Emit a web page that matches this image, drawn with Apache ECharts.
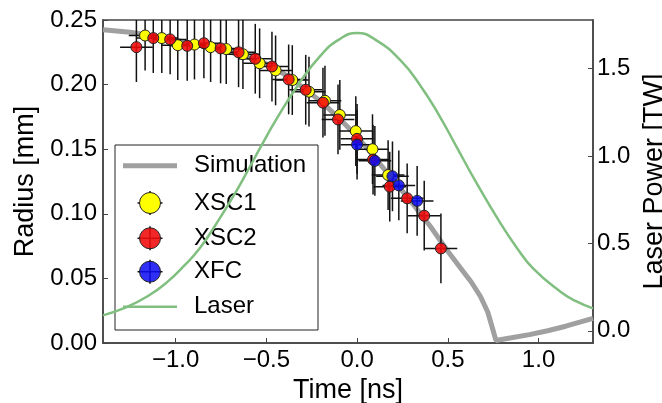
<!DOCTYPE html>
<html>
<head>
<meta charset="utf-8">
<script src="https://cdn.jsdelivr.net/npm/echarts@6/dist/echarts.min.js"></script>
<style>
  html, body { margin: 0; padding: 0; background: #fff; }
  #chart { width: 662px; height: 403px; }
</style>
</head>
<body>
<div id="chart"></div>
<script>
// simulation radius curve [ns, mm]
const simTime   = [-1.40, -1.25, -1.10, -0.95, -0.80, -0.65, -0.50, -0.40, -0.30, -0.20, -0.10, 0.00, 0.10, 0.20, 0.30, 0.40, 0.50, 0.57, 0.63, 0.68, 0.72, 0.745, 0.765, 0.85, 0.95, 1.05, 1.15, 1.30];
const simRadius = [0.2425, 0.2405, 0.237, 0.233, 0.2285, 0.2235, 0.216, 0.208, 0.198, 0.187, 0.174, 0.160, 0.143, 0.126, 0.109, 0.091, 0.071, 0.058, 0.047, 0.036, 0.024, 0.012, 0.002, 0.004, 0.0065, 0.0095, 0.013, 0.019];

// measurements
const xsc1Time   = [-1.168, -1.076, -0.988, -0.896, -0.807, -0.721, -0.629, -0.537, -0.449, -0.357, -0.265, -0.177, -0.095, -0.007, 0.085, 0.171];
const xsc1Radius = [0.238, 0.236, 0.2305, 0.231, 0.229, 0.2275, 0.2235, 0.2165, 0.211, 0.2035, 0.1945, 0.1875, 0.1765, 0.164, 0.150, 0.130];

const xsc2Time   = [-1.216, -1.123, -1.030, -0.936, -0.844, -0.752, -0.653, -0.561, -0.469, -0.377, -0.283, -0.188, -0.105, 0.000, 0.088, 0.180, 0.276, 0.370, 0.462];
const xsc2Radius = [0.229, 0.236, 0.235, 0.230, 0.232, 0.228, 0.225, 0.220, 0.214, 0.204, 0.196, 0.186, 0.173, 0.158, 0.142, 0.121, 0.112, 0.0985, 0.0732];

const xfcTime   = [0.000, 0.098, 0.195, 0.230, 0.331];
const xfcRadius = [0.1535, 0.141, 0.129, 0.122, 0.110];

const timeErr = 0.09;    // ns
const radiusErr = 0.027; // mm

// laser power [TW]
const laserTime  = [-1.40, -1.27, -1.15, -1.05, -0.95, -0.868, -0.78, -0.684, -0.60, -0.537, -0.45, -0.316, -0.20, -0.10, 0.00, 0.10, 0.236, 0.35, 0.456, 0.549, 0.65, 0.787, 0.88, 0.971, 1.119, 1.20, 1.30];
const laserPower = [0.088, 0.135, 0.20, 0.275, 0.375, 0.47, 0.605, 0.765, 0.92, 1.04, 1.20, 1.42, 1.575, 1.665, 1.703, 1.665, 1.55, 1.40, 1.225, 1.05, 0.86, 0.62, 0.475, 0.355, 0.225, 0.172, 0.128];

const timeTicks = [-1.0, -0.5, 0.0, 0.5, 1.0];
const powerTicks = [0.0, 0.5, 1.0, 1.5];

const legendNames = ['Simulation', 'XSC1', 'XSC2', 'XFC', 'Laser'];

const font = "'Liberation Sans', Arial, sans-serif";
const simColor = '#a0a0a0', laserColor = '#80bf80';
const xsc1Color = '#ffff00', xsc2Color = 'rgba(240,10,10,0.88)', xfcColor = 'rgba(10,10,245,0.85)';

const zip = (a, b) => a.map((v, i) => [v, b[i]]);
const withErr = (a, b) => a.map((v, i) => [v, b[i], timeErr, radiusErr]);

function errorBars(params, api) {
  const t = api.value(0), r = api.value(1), xe = api.value(2), ye = api.value(3);
  const c = api.coord([t, r]);
  const l = api.coord([t - xe, r]);
  const rr = api.coord([t + xe, r]);
  const top = api.coord([t, r + ye]);
  const bot = api.coord([t, r - ye]);
  const cs = params.coordSys;
  const y1 = Math.max(top[1], cs.y);
  const y2 = Math.min(bot[1], cs.y + cs.height);
  const st = { stroke: '#111', lineWidth: 1.5 };
  return {
    type: 'group',
    children: [
      { type: 'line', shape: { x1: l[0], y1: c[1], x2: rr[0], y2: c[1] }, style: st },
      { type: 'line', shape: { x1: c[0], y1: y1, x2: c[0], y2: y2 }, style: st }
    ]
  };
}

// hand-built legend box (matplotlib style, with error-bar crosses)
function legendGraphic() {
  const x0 = 115, y0 = 145, w = 203, h = 185;
  const rows = [165.7, 203, 238.3, 271.7, 306.7];
  const cx = 150;
  const els = [{ type: 'rect', shape: { x: x0, y: y0, width: w, height: h }, style: { fill: '#fff', stroke: '#222', lineWidth: 1 }, z: 5 }];
  const mk = [null, xsc1Color, xsc2Color, xfcColor, null];
  legendNames.forEach((name, i) => {
    const y = rows[i];
    if (name === 'Simulation' || name === 'Laser') {
      els.push({ type: 'line', shape: { x1: 123, y1: y, x2: 177, y2: y },
        style: { stroke: name === 'Laser' ? laserColor : simColor, lineWidth: name === 'Laser' ? 2.5 : 5 }, z: 6 });
    } else {
      els.push({ type: 'line', shape: { x1: cx - 12.5, y1: y, x2: cx + 12.5, y2: y }, style: { stroke: '#111', lineWidth: 1.5 }, z: 6 });
      els.push({ type: 'line', shape: { x1: cx, y1: y - 12, x2: cx, y2: y + 12 }, style: { stroke: '#111', lineWidth: 1.5 }, z: 6 });
      els.push({ type: 'circle', shape: { cx: cx, cy: y, r: 10.5 }, style: { fill: mk[i], stroke: '#222', lineWidth: 1 }, z: 7 });
    }
    els.push({ type: 'text', x: 194, y: y, style: { text: name, fontSize: 24, fontFamily: font, fill: '#000', verticalAlign: 'middle' }, z: 7 });
  });
  return els;
}

const chart = echarts.init(document.getElementById('chart'));
chart.setOption({
  animation: false,
  textStyle: { fontFamily: font },
  grid: {
    left: 103, right: 69, top: 20, bottom: 60, containLabel: false, outerBoundsMode: 'none',
    show: true, borderColor: '#444', borderWidth: 1.5
  },
  graphic: { elements: legendGraphic() },
  xAxis: {
    type: 'value', min: -1.4, max: 1.3,
    name: 'Time [ns]', nameLocation: 'middle', nameGap: 30,
    nameTextStyle: { fontSize: 27, color: '#000', fontFamily: font },
    axisLine: { show: true, onZero: false, lineStyle: { color: '#444', width: 1.5 } },
    axisTick: { inside: true, length: 5, customValues: timeTicks, lineStyle: { color: '#444' } },
    axisLabel: {
      customValues: timeTicks, fontSize: 24, color: '#000', margin: 5,
      formatter: v => (v < 0 ? '\u2212' : '') + Math.abs(v).toFixed(1)
    },
    splitLine: { show: false }
  },
  yAxis: [{
    type: 'value', min: 0, max: 0.25, interval: 0.05,
    name: 'Radius [mm]', nameLocation: 'middle', nameGap: 64,
    nameTextStyle: { fontSize: 27, color: '#000', fontFamily: font },
    axisLine: { show: true, onZero: false, lineStyle: { color: '#444', width: 1.5 } },
    axisTick: { inside: true, length: 5, lineStyle: { color: '#444' } },
    axisLabel: { fontSize: 24, color: '#000', margin: 6, formatter: v => v.toFixed(2) },
    splitLine: { show: false }
  }, {
    type: 'value', min: -0.07, max: 1.777, position: 'right',
    name: 'Laser Power [TW]', nameLocation: 'middle', nameGap: 42,
    nameTextStyle: { fontSize: 27, color: '#000', fontFamily: font },
    axisLine: { show: true, onZero: false, lineStyle: { color: '#444', width: 1.5 } },
    axisTick: { inside: true, length: 5, customValues: powerTicks, lineStyle: { color: '#444' } },
    axisLabel: { customValues: powerTicks, fontSize: 24, color: '#000', margin: 4, formatter: v => v.toFixed(1) },
    splitLine: { show: false }
  }],
  series: [
    {
      name: 'Simulation', type: 'line', data: zip(simTime, simRadius),
      symbol: 'none', lineStyle: { color: simColor, width: 5 }, itemStyle: { color: simColor }, z: 1
    },
    { name: 'XSC1 err', type: 'custom', renderItem: errorBars, data: withErr(xsc1Time, xsc1Radius), encode: { x: 0, y: 1 }, z: 2 },
    { name: 'XSC2 err', type: 'custom', renderItem: errorBars, data: withErr(xsc2Time, xsc2Radius), encode: { x: 0, y: 1 }, z: 2 },
    { name: 'XFC err', type: 'custom', renderItem: errorBars, data: withErr(xfcTime, xfcRadius), encode: { x: 0, y: 1 }, z: 2 },
    {
      name: 'XSC1', type: 'scatter', data: zip(xsc1Time, xsc1Radius), symbolSize: 11, z: 3,
      itemStyle: { color: xsc1Color, borderColor: '#222', borderWidth: 1, opacity: 1 }
    },
    {
      name: 'XSC2', type: 'scatter', data: zip(xsc2Time, xsc2Radius), symbolSize: 11, z: 4,
      itemStyle: { color: xsc2Color, borderColor: '#222', borderWidth: 1, opacity: 1 }
    },
    {
      name: 'XFC', type: 'scatter', data: zip(xfcTime, xfcRadius), symbolSize: 11, z: 5,
      itemStyle: { color: xfcColor, borderColor: '#222', borderWidth: 1, opacity: 1 }
    },
    {
      name: 'Laser', type: 'line', yAxisIndex: 1, data: zip(laserTime, laserPower),
      smooth: 0.5, symbol: 'none', lineStyle: { color: laserColor, width: 2.5 }, itemStyle: { color: laserColor }, z: 10
    }
  ]
});
</script>
</body>
</html>
